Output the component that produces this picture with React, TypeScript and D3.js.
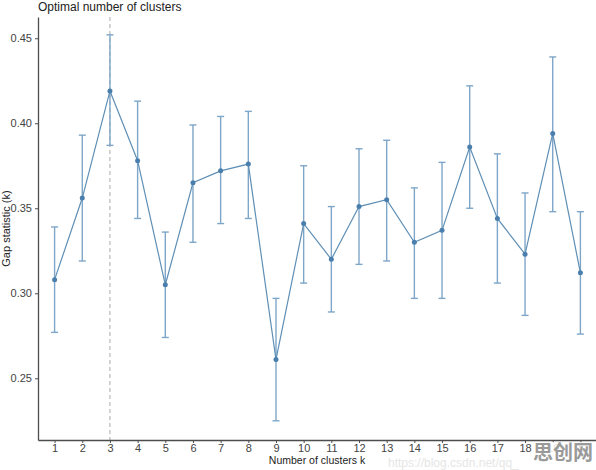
import React, { useEffect, useRef } from 'react';
import * as d3 from 'd3';

const clusters = [1, 2, 3, 4, 5, 6, 7, 8, 9, 10, 11, 12, 13, 14, 15, 16, 17, 18, 19, 20];
const gap = [0.308, 0.356, 0.419, 0.378, 0.305, 0.365, 0.372, 0.376, 0.261, 0.341,
  0.320, 0.351, 0.355, 0.330, 0.337, 0.386, 0.344, 0.323, 0.394, 0.312];
const upper = [0.339, 0.393, 0.452, 0.413, 0.336, 0.399, 0.404, 0.407, 0.297, 0.375,
  0.351, 0.385, 0.390, 0.362, 0.377, 0.422, 0.382, 0.359, 0.439, 0.348];
const lower = [0.277, 0.319, 0.387, 0.344, 0.274, 0.330, 0.341, 0.344, 0.225, 0.306,
  0.289, 0.317, 0.319, 0.297, 0.297, 0.350, 0.306, 0.287, 0.348, 0.276];
const yTicks = [0.25, 0.30, 0.35, 0.40, 0.45];
const optimalK = 3;

const W = 596;
const H = 470;

const App: React.FC = () => {
  const svgRef = useRef<SVGSVGElement>(null);

  useEffect(() => {
    if (!svgRef.current) return;
    const svg = d3.select(svgRef.current);
    svg.selectAll('*').remove();

    const margin = { top: 17, right: -1, bottom: 30, left: 38 };
    const innerW = W - margin.left - margin.right;
    const innerH = H - margin.top - margin.bottom;
    const font = 'Liberation Sans, Arial, sans-serif';

    svg.append('rect').attr('width', W).attr('height', H).attr('fill', '#fff');

    const x = d3.scaleLinear().domain([0.4, 20.6]).range([0, innerW]);
    const y = d3.scaleLinear().domain([0.2137, 0.4625]).range([innerH, 0]);

    const g = svg.append('g').attr('transform', `translate(${margin.left},${margin.top})`);

    // dashed line at optimal k
    g.append('line')
      .attr('x1', x(optimalK)).attr('x2', x(optimalK))
      .attr('y1', 0).attr('y2', innerH)
      .attr('stroke', '#aaaaaa')
      .attr('stroke-width', 1)
      .attr('stroke-dasharray', '4,3');

    // error bars
    const bars = g.selectAll('.err')
      .data(clusters)
      .enter().append('g')
      .attr('class', 'err')
      .attr('stroke', '#7ea6c8')
      .attr('stroke-width', 1.4);
    bars.append('line')
      .attr('x1', d => x(d)).attr('x2', d => x(d))
      .attr('y1', (d, i) => y(upper[i])).attr('y2', (d, i) => y(lower[i]));
    bars.append('line')
      .attr('x1', d => x(d) - 3.5).attr('x2', d => x(d) + 3.5)
      .attr('y1', (d, i) => y(upper[i])).attr('y2', (d, i) => y(upper[i]));
    bars.append('line')
      .attr('x1', d => x(d) - 3.5).attr('x2', d => x(d) + 3.5)
      .attr('y1', (d, i) => y(lower[i])).attr('y2', (d, i) => y(lower[i]));

    const line = d3.line<number>()
      .x(d => x(d))
      .y((d, i) => y(gap[i]));

    g.append('path')
      .datum(clusters)
      .attr('d', line)
      .attr('fill', 'none')
      .attr('stroke', '#5f8fb5')
      .attr('stroke-width', 1.2);

    g.selectAll('.pt')
      .data(clusters)
      .enter().append('circle')
      .attr('class', 'pt')
      .attr('cx', d => x(d))
      .attr('cy', (d, i) => y(gap[i]))
      .attr('r', 2.5)
      .attr('fill', '#4a7fad');

    // axes
    const xAxis = g.append('g')
      .attr('transform', `translate(0,${innerH})`)
      .call(d3.axisBottom(x).tickValues(clusters).tickFormat(d3.format('d')).tickSize(3).tickSizeOuter(0));
    const yAxis = g.append('g')
      .call(d3.axisLeft(y).tickValues(yTicks).tickFormat(d3.format('.2f')).tickSize(3).tickSizeOuter(0));

    [xAxis, yAxis].forEach(ax => {
      ax.select('.domain').attr('stroke', '#4d4d4d').attr('stroke-width', 1.3);
      ax.selectAll('.tick line').attr('stroke', '#4d4d4d');
      ax.selectAll('.tick text')
        .attr('fill', '#444')
        .attr('font-family', font)
        .attr('font-size', 11);
    });
    xAxis.selectAll('.tick text').attr('dy', '0.5em');

    // title and labels
    svg.append('text')
      .attr('x', margin.left)
      .attr('y', 11)
      .attr('font-family', font)
      .attr('font-size', 12)
      .attr('fill', '#222')
      .text('Optimal number of clusters');

    svg.append('text')
      .attr('x', 317)
      .attr('y', 464)
      .attr('text-anchor', 'middle')
      .attr('font-family', font)
      .attr('font-size', 10.5)
      .attr('fill', '#222')
      .text('Number of clusters k');

    svg.append('text')
      .attr('transform', `translate(10,${margin.top + innerH / 2}) rotate(-90)`)
      .attr('text-anchor', 'middle')
      .attr('font-family', font)
      .attr('font-size', 11)
      .attr('fill', '#222')
      .text('Gap statistic (k)');

    // watermarks
    svg.append('text')
      .attr('x', 388)
      .attr('y', 467)
      .attr('font-family', font)
      .attr('font-size', 12)
      .attr('fill', '#e6e6e6')
      .text('https://blog.csdn.net/qq_');

    svg.append('rect')
      .attr('x', 533).attr('y', 442)
      .attr('width', 62).attr('height', 22)
      .attr('fill', '#fff')
      .attr('opacity', 0.85);

    svg.append('text')
      .attr('x', 533)
      .attr('y', 460)
      .attr('font-family', 'Noto Sans CJK SC, sans-serif')
      .attr('font-weight', 'bold')
      .attr('font-size', 20)
      .attr('fill', '#9a9a9a')
      .text('思创网');
  }, []);

  return (
    <svg
      ref={svgRef}
      width={W}
      height={H}
      style={{ position: 'absolute', left: 0, top: 0, display: 'block' }}
    />
  );
};

export default App;
